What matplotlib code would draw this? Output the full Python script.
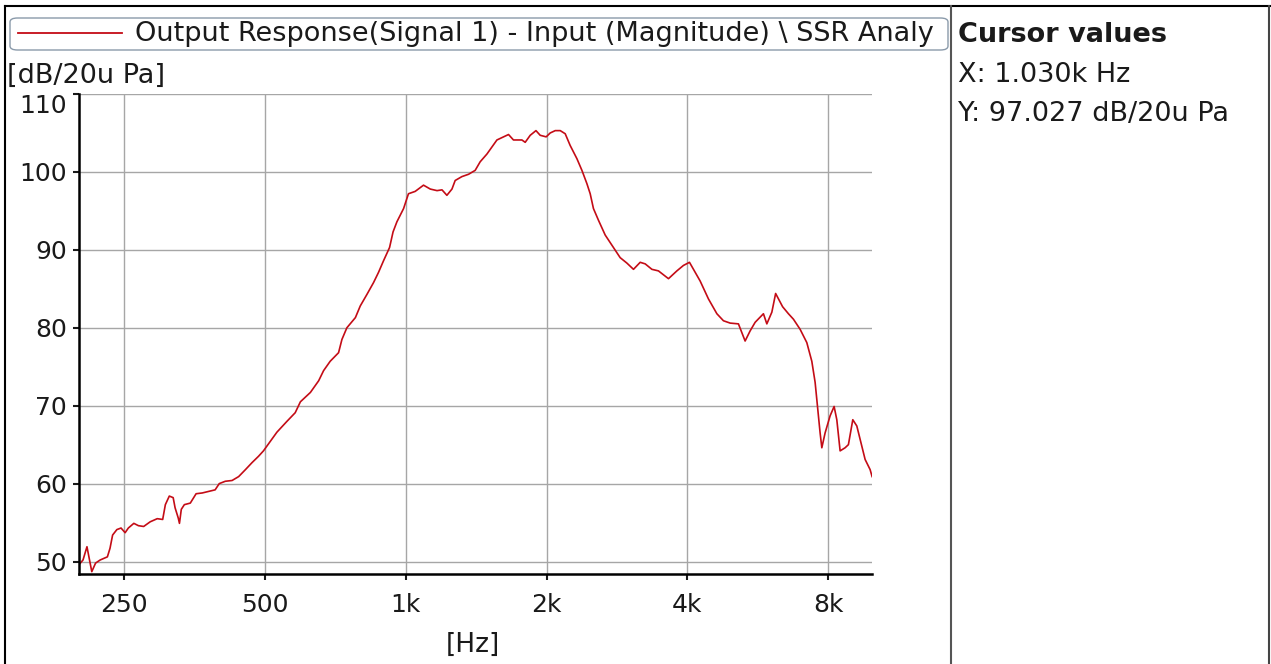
import numpy as np
import matplotlib
matplotlib.use("Agg")
import matplotlib.pyplot as plt
from matplotlib.patches import FancyBboxPatch
from matplotlib.lines import Line2D

# frequency response
freq_hz = [200, 204, 208, 210, 213, 217, 222, 230, 233, 236, 241, 246, 251, 255, 262, 268, 275, 284, 294, 302,
           306, 312, 318, 321, 326, 328, 331, 336, 346, 356, 367, 379, 391, 399, 411, 425, 439, 454, 469, 484, 496,
           517, 530, 557, 580, 595, 625, 651, 667, 689, 718, 730, 748, 780, 799, 826, 853, 874, 896, 923,
           939, 957, 989, 1013, 1047, 1091, 1128, 1166, 1195, 1224, 1255, 1275, 1318, 1362, 1407, 1442, 1491, 1528,
           1566, 1618, 1658, 1699, 1771, 1800, 1845, 1898, 1938, 1996, 2036, 2087, 2139, 2192, 2246, 2322, 2380,
           2439, 2479, 2519, 2582, 2669,
           2780, 2873, 2970, 3068, 3171, 3250, 3359, 3469, 3645, 3799, 3924, 4042, 4122, 4260, 4438, 4626, 4778,
           4938, 5144, 5316, 5449, 5585, 5818, 5916, 6064, 6178, 6394, 6580, 6744, 6970, 7203, 7383, 7504, 7590,
           7691, 7756, 7882, 8079, 8240, 8350, 8487, 8698, 8841, 9034, 9214, 9366, 9599, 9838, 9935]
level_db = [49.6, 50.2, 51.9, 50.6, 48.7, 49.8, 50.2, 50.6, 51.7, 53.4, 54.1, 54.3, 53.7, 54.3, 54.9, 54.6, 54.5,
            55.1, 55.5, 55.4, 57.3, 58.4, 58.2, 56.9, 55.6, 54.9, 56.7, 57.3, 57.5, 58.7, 58.8, 59.0, 59.2, 60.0,
            60.3, 60.4, 60.9, 61.8, 62.7, 63.5, 64.2,
            65.7, 66.6, 68.0, 69.1, 70.5, 71.7, 73.2, 74.5, 75.7, 76.8, 78.5, 80.0, 81.3, 82.8, 84.3, 85.8, 87.1,
            88.6, 90.3,
            92.3, 93.6, 95.3, 97.2, 97.5, 98.3, 97.8, 97.6, 97.7, 97.0, 97.8, 98.9, 99.4, 99.7, 100.2, 101.3, 102.3,
            103.2, 104.1, 104.5, 104.8, 104.1, 104.1, 103.8, 104.7, 105.3, 104.7, 104.5, 105.0, 105.3, 105.3, 104.9,
            103.4, 101.7, 100.2, 98.5, 97.2, 95.3, 93.8, 91.9,
            90.3, 89.0, 88.3, 87.5, 88.4, 88.2, 87.5, 87.3, 86.3, 87.3, 88.0, 88.4, 87.5, 86.0, 83.7, 81.8, 80.9,
            80.6, 80.5, 78.3, 79.6, 80.7, 81.8, 80.5, 82.0, 84.4, 82.7, 81.8, 81.1, 79.8, 78.1, 75.7, 73.0, 70.0,
            66.5, 64.6, 66.5, 68.7, 69.9, 68.2, 64.2, 64.6, 65.0, 68.2, 67.4, 65.7, 63.1, 61.8, 60.9]

x_ticks = [250, 500, 1000, 2000, 4000, 8000]
x_labels = ["250", "500", "1k", "2k", "4k", "8k"]
y_ticks = [50, 60, 70, 80, 90, 100, 110]

# the app cuts the legend label off at the box edge
legend_label = "Output Response(Signal 1) - Input (Magnitude) \\ SSR Analy"
cursor_x = "X: 1.030k Hz"
cursor_y = "Y: 97.027 dB/20u Pa"

W, H = 1271, 664
fig = plt.figure(figsize=(W / 100, H / 100), dpi=100)
fig.patch.set_facecolor("white")

def fx(px):
    return px / W

def fy(py):
    return 1 - py / H

ax = fig.add_axes([fx(79), fy(574), fx(872) - fx(79), fy(94) - fy(574)])
red = "#c40c16"
ax.plot(freq_hz, level_db, color=red, lw=1.2)

ax.set_xscale("log")
ax.set_xlim(200, 9930)
ax.set_ylim(48.4, 110)
ax.set_xticks(x_ticks, x_labels)
ax.xaxis.set_minor_locator(matplotlib.ticker.NullLocator())
ax.set_yticks(y_ticks)
ax.grid(True, color="#a6a6a6", lw=1.0)
for s in ["top", "right"]:
    ax.spines[s].set_visible(False)
for s in ["left", "bottom"]:
    ax.spines[s].set_linewidth(1.8)
ax.tick_params(direction="out", length=4.5, width=1.5, labelsize=18, colors="#1a1a1a")
ax.tick_params(axis="x", pad=9)
ax.tick_params(axis="y", pad=4)
for lab in ax.get_yticklabels():
    if lab.get_text() == "110":
        lab.set_va("top")

# units
fig.text(fx(7), fy(76), "[dB/20u Pa]", fontsize=19.5, va="center", ha="left", color="#1a1a1a")
fig.text(fx(473), fy(645), "[Hz]", fontsize=19, va="center", ha="center", color="#1a1a1a")

# legend box across the top
box = FancyBboxPatch((fx(10), fy(50)), fx(948) - fx(10), fy(18) - fy(50),
                     boxstyle="round,pad=0,rounding_size=0.006", transform=fig.transFigure,
                     facecolor="white", edgecolor="#8a9aaa", lw=1.0)
fig.patches.append(box)
fig.lines.append(Line2D([fx(18), fx(122)], [fy(33), fy(33)], transform=fig.transFigure, color=red, lw=1.3))
fig.text(fx(135), fy(34), legend_label, fontsize=19.5, va="center", ha="left", color="#1a1a1a")

# cursor panel
fig.text(fx(958), fy(35), "Cursor values", fontsize=19.5, fontweight="bold", va="center", ha="left",
         color="#1a1a1a")
fig.text(fx(958), fy(75), cursor_x, fontsize=19.5, va="center", ha="left", color="#1a1a1a")
fig.text(fx(958), fy(114), cursor_y, fontsize=19.5, va="center", ha="left", color="#1a1a1a")

# frame lines
frame = [([5, 5], [6, 664], "black"), ([5, 1270], [6, 6], "black"),
         ([1269, 1269], [6, 664], "#444444"), ([951, 951], [6, 664], "#555555")]
for xs, ys, c in frame:
    fig.lines.append(Line2D([fx(v) for v in xs], [fy(v) for v in ys], transform=fig.transFigure, color=c, lw=1.5))

fig.savefig("out.png", dpi=100)
